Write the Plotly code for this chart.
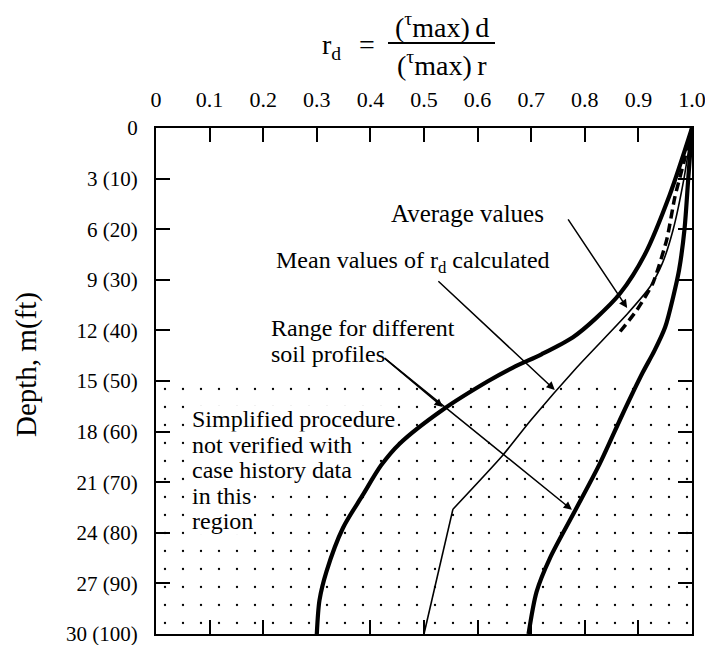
import plotly.graph_objects as go

# ---------------- data ----------------
x_ticks = [0, 0.1, 0.2, 0.3, 0.4, 0.5, 0.6, 0.7, 0.8, 0.9, 1.0]
x_ticktext = ["0", "0.1", "0.2", "0.3", "0.4", "0.5", "0.6", "0.7", "0.8", "0.9", "1.0"]
y_ticks = [0, 3, 6, 9, 12, 15, 18, 21, 24, 27, 30]
y_ticktext = ["0", "3 (10)", "6 (20)", "9 (30)", "12 (40)", "15 (50)", "18 (60)",
              "21 (70)", "24 (80)", "27 (90)", "30 (100)"]

# lower bound of range (left thick curve)
left_rd = [1.0, 0.958, 0.912, 0.866, 0.82, 0.778, 0.72, 0.666, 0.62, 0.535, 0.455,
           0.42, 0.385, 0.349, 0.318, 0.305, 0.30]
left_depth = [0, 4, 7.5, 9.8, 11.3, 12.4, 13.4, 14.2, 15.0, 16.7, 18.7,
              20.0, 21.8, 23.7, 26.3, 28.0, 30]

# upper bound of range (right thick curve)
right_rd = [1.0, 0.993, 0.986, 0.976, 0.965, 0.95, 0.93, 0.908, 0.87, 0.828,
            0.78, 0.735, 0.71, 0.695]
right_depth = [0, 3, 6, 8.4, 10, 11.8, 13.2, 14.5, 17, 19.9, 22.8, 25.5, 27.5, 30]

# mean values of rd calculated (thin line)
mean_rd = [1.0, 0.985, 0.965, 0.945, 0.922, 0.88, 0.785, 0.70, 0.647, 0.554, 0.50]
mean_depth = [0, 3, 6, 8, 9.4, 11, 14.2, 17.3, 19.4, 22.6, 30]

# average values (dashed)
avg_rd = [1.0, 0.985, 0.968, 0.953, 0.927, 0.897, 0.86]
avg_depth = [0, 2, 4.1, 6.6, 9.2, 10.8, 12.3]

# unverified region (depth range)
region_rd = [0, 1, 1, 0, 0]
region_depth = [15.3, 15.3, 30, 30, 15.3]

SERIF = "Liberation Serif, Times New Roman, serif"

# plot area in pixels: left 156, right 692, top 128, bottom 634
L, R, T, B = 156, 692, 128, 634
W, H = R - L, B - T


def px(xp):
    return (xp - L) / W


def py(yp):
    return 1 - (yp - T) / H


fig = go.Figure()

fig.add_trace(go.Scatter(
    x=region_rd, y=region_depth, mode="lines", fill="toself",
    line=dict(width=0, color="rgba(0,0,0,0)"),
    fillcolor="white",
    fillpattern=dict(shape=".", size=18, solidity=0.013, fgcolor="black",
                     bgcolor="white", fillmode="replace"),
    hoverinfo="skip", showlegend=False))

fig.add_trace(go.Scatter(x=left_rd, y=left_depth, mode="lines",
                         line=dict(color="black", width=4.2, shape="spline", smoothing=0.8),
                         showlegend=False))
fig.add_trace(go.Scatter(x=right_rd, y=right_depth, mode="lines",
                         line=dict(color="black", width=4.2, shape="spline", smoothing=0.8),
                         showlegend=False))
k = 9  # kink index of mean line
fig.add_trace(go.Scatter(x=mean_rd[:k + 1], y=mean_depth[:k + 1], mode="lines",
                         line=dict(color="black", width=1.6, shape="spline", smoothing=0.6),
                         showlegend=False))
fig.add_trace(go.Scatter(x=mean_rd[k:], y=mean_depth[k:], mode="lines",
                         line=dict(color="black", width=1.6),
                         showlegend=False))
fig.add_trace(go.Scatter(x=avg_rd, y=avg_depth, mode="lines",
                         line=dict(color="black", width=3.5, dash="9px,5px",
                                   shape="spline", smoothing=0.6),
                         showlegend=False))

ann = []
TF = dict(family=SERIF, size=24, color="black")


def text(t, xp, yp, anchor="left", size=None, bg=None):
    f = dict(TF)
    if size:
        f["size"] = size
    d = dict(text=t, x=px(xp), y=py(yp), xref="paper", yref="paper",
             xanchor=anchor, yanchor="middle", showarrow=False, font=f)
    if bg:
        d.update(bgcolor=bg, borderpad=0)
    ann.append(d)


text("Average values", 389, 213, size=25)
text("Mean values of r<sub>d</sub> calculated", 274, 262)
text("Range for different", 269, 328)
text("soil profiles", 269, 354)
for t, yy in [("Simplified procedure", 419), ("not verified with", 445),
              ("case history data", 470), ("in this", 496), ("region", 521)]:
    text(t, 191, yy, bg="white")


def arrow(tx, ty, hx, hy):
    ann.append(dict(text="", x=hx, y=hy, ax=tx, ay=ty, xref="x", yref="y",
                    axref="x", ayref="y", showarrow=True, arrowhead=2,
                    arrowsize=1.1, arrowwidth=1.5, arrowcolor="black", standoff=0))


arrow(0.767, 5.33, 0.879, 10.67)     # average values
arrow(0.524, 9.0, 0.744, 15.53)      # mean values
arrow(0.4235, 13.57, 0.535, 16.54)   # range -> left curve
arrow(0.4235, 13.57, 0.776, 22.64)   # range -> right curve

# axis title
ann.append(dict(text="Depth, m(ft)", x=px(26), y=py(365), xref="paper", yref="paper",
                xanchor="center", yanchor="middle", textangle=-90, showarrow=False,
                font=dict(family=SERIF, size=29, color="black")))

# formula on top
FF = dict(family=SERIF, size=28, color="black")
ann.append(dict(text="r<sub>d</sub>", x=px(320), y=py(46), xref="paper", yref="paper",
                xanchor="left", yanchor="middle", showarrow=False, font=FF))
ann.append(dict(text="=", x=px(367), y=py(44), xref="paper", yref="paper",
                xanchor="center", yanchor="middle", showarrow=False, font=FF))
ann.append(dict(text="(<sup>τ</sup>max)\u2009d", x=px(442), y=py(25), xref="paper",
                yref="paper", xanchor="center", yanchor="middle", showarrow=False, font=FF))
ann.append(dict(text="(<sup>τ</sup>max)\u2009r", x=px(442), y=py(63), xref="paper",
                yref="paper", xanchor="center", yanchor="middle", showarrow=False, font=FF))

shapes = [dict(type="line", xref="paper", yref="paper", x0=px(388), x1=px(495),
               y0=py(43), y1=py(43), line=dict(color="black", width=2))]

fig.update_layout(
    width=705, height=645,
    margin=dict(l=L, r=705 - R, t=T, b=645 - B, autoexpand=False),
    paper_bgcolor="white", plot_bgcolor="white",
    annotations=ann, shapes=shapes,
    xaxis=dict(range=[0, 1], side="top", tickvals=x_ticks, ticktext=x_ticktext,
               ticks="inside", ticklen=14, tickwidth=2, tickcolor="black",
               showline=True, linecolor="black", linewidth=2, mirror="ticks",
               showgrid=False, zeroline=False, ticklabelstandoff=10,
               ticklabeloverflow="allow", automargin=False,
               tickfont=dict(family=SERIF, size=22, color="black")),
    yaxis=dict(range=[30, 0], tickvals=y_ticks, ticktext=y_ticktext,
               ticks="inside", ticklen=14, tickwidth=2, tickcolor="black",
               showline=True, linecolor="black", linewidth=2, mirror="ticks",
               showgrid=False, zeroline=False, ticklabelstandoff=12,
               ticklabeloverflow="allow", automargin=False,
               tickfont=dict(family=SERIF, size=21, color="black")),
)

fig.write_html("out.html")
